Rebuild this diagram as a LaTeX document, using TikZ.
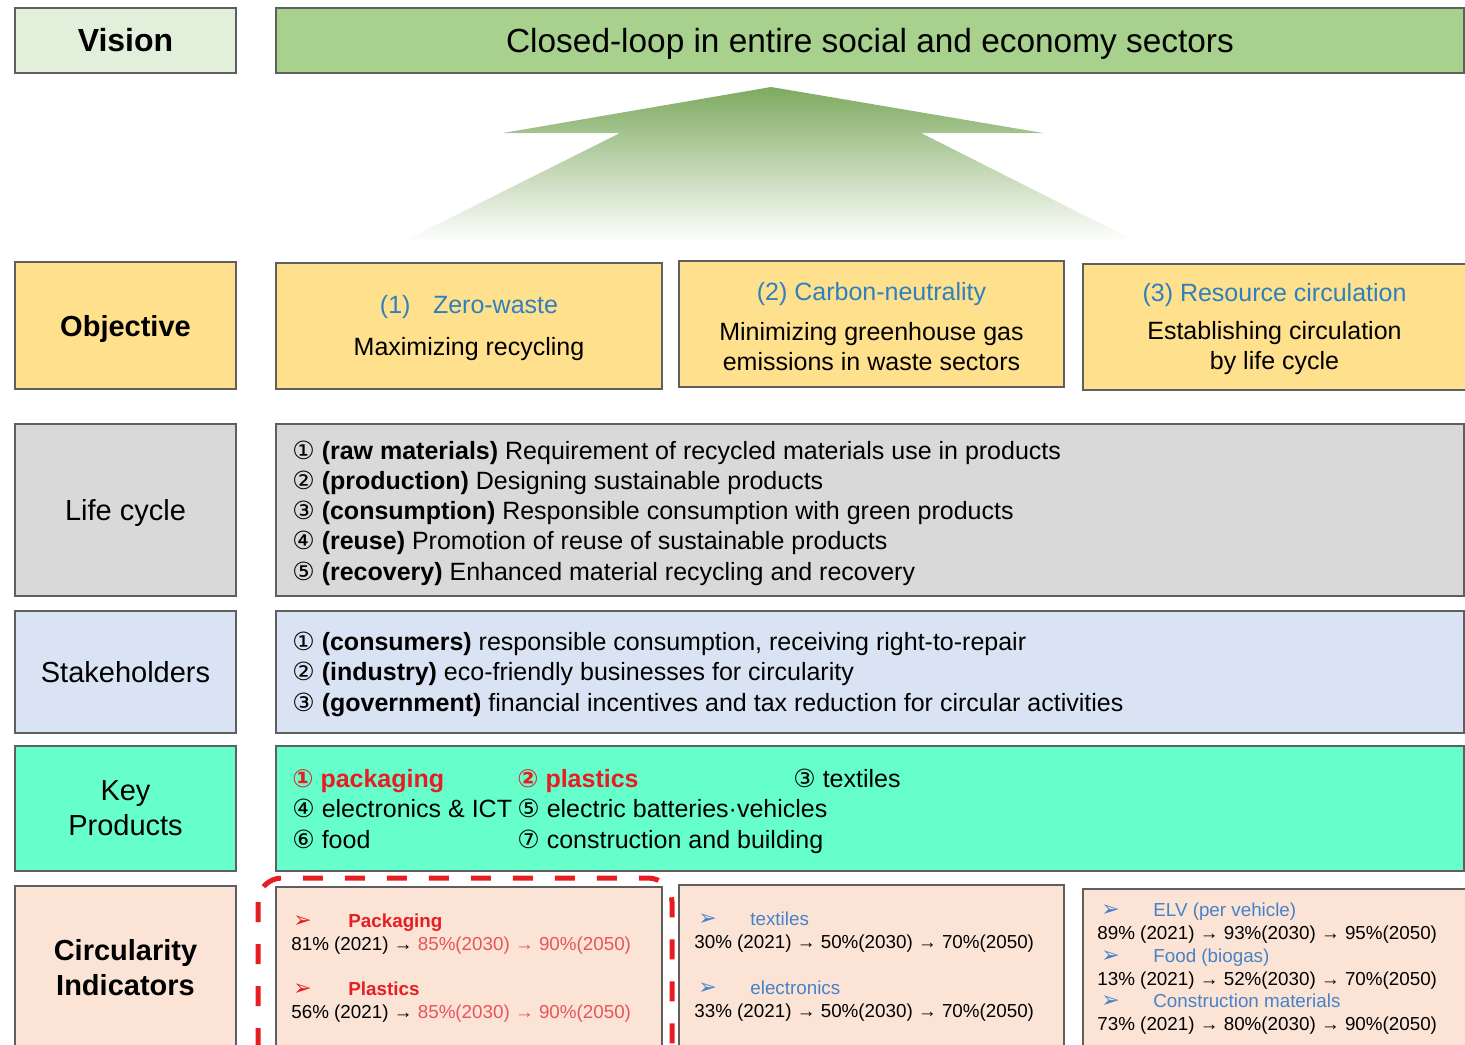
\documentclass[tikz,border=0pt]{standalone}
\usepackage{fontspec}
\setmainfont{Liberation Sans}
\newfontfamily\dejavu{DejaVu Sans}
\usetikzlibrary{arrows,shapes}
\definecolor{visionfill}{RGB}{226,239,218}
\definecolor{loopfill}{RGB}{169,209,142}
\definecolor{arrowgreen}{RGB}{126,170,96}
\definecolor{objfill}{RGB}{255,224,140}
\definecolor{lifefill}{RGB}{217,217,217}
\definecolor{stakefill}{RGB}{218,227,243}
\definecolor{keyfill}{RGB}{102,255,204}
\definecolor{indfill}{RGB}{251,228,214}
\definecolor{boxline}{RGB}{95,95,95}
\definecolor{titleblue}{RGB}{46,128,190}
\definecolor{indblue}{RGB}{70,130,200}
\definecolor{hotred}{RGB}{230,30,36}
\definecolor{softred}{RGB}{232,84,92}
\newcommand{\cn}[1]{{\dejavu #1}}
\newcommand{\visionfont}{\fontsize{16}{19}\selectfont}
\newcommand{\loopfont}{\fontsize{16.7}{20}\selectfont}
\newcommand{\labelfont}{\fontsize{14.5}{17.5}\selectfont}
\newcommand{\rowfont}{\fontsize{12.5}{15}\selectfont}
\newcommand{\indfont}{\fontsize{9.4}{11}\selectfont}
\tikzstyle{labelbox}=[draw=boxline,line width=0.8pt,inner sep=0pt,minimum width=110.5pt,align=center,font=\labelfont]
\tikzstyle{widebox}=[draw=boxline,line width=0.8pt,inner sep=0pt,minimum width=594pt]
\tikzstyle{objbox}=[draw=boxline,line width=0.8pt,inner sep=0pt,fill=objfill]
\tikzstyle{objtext}=[inner sep=0pt,align=center,font=\rowfont]
\tikzstyle{indbox}=[draw=boxline,line width=0.8pt,inner sep=0pt,fill=indfill]
\tikzstyle{textline}=[anchor=west,inner sep=0pt,text height=0.9em,text depth=0.1em,font=\rowfont]
\tikzstyle{indline}=[anchor=west,inner sep=0pt,text height=0.85em,text depth=0.15em,font=\indfont]

\begin{document}
\begin{tikzpicture}[x=0.5pt,y=-0.5pt]
    % First we fix the page
    \path[fill=white,use as bounding box] (0,0) rectangle (1465,1044);
    % Labels on the left
    \node[labelbox,fill=visionfill,minimum height=32.5pt,font=\visionfont\bfseries] (vision) at (125.5,40.5) {Vision};
    \node[labelbox,fill=objfill,minimum height=63.5pt,font=\labelfont\bfseries,text height=11.5pt,text depth=1pt] (objective) at (125.5,325.5) {Objective};
    \node[labelbox,fill=lifefill,minimum height=86pt,text height=11.5pt,text depth=1pt] (life) at (125.5,510) {Life cycle};
    \node[labelbox,fill=stakefill,minimum height=61pt] (stake) at (125.5,672) {Stakeholders};
    \node[labelbox,fill=keyfill,minimum height=62.5pt] (key) at (125.5,808.5) {Key\\Products};
    \node[labelbox,fill=indfill,minimum height=82pt,font=\labelfont\bfseries] (circ) at (125.5,968) {Circularity\\Indicators};
    % Vision and the arrow up to it
    \node[widebox,fill=loopfill,minimum height=32.5pt,font=\loopfont,text height=12.5pt,text depth=1pt] (loop) at (870,40.5) {Closed-loop in entire social and economy sectors};
    \shade[top color=arrowgreen,bottom color=white] (771,87) -- (1043,133) -- (921,133) -- (1137,242) -- (402,242) -- (620,133) -- (503,133) -- cycle;
    % Objectives
    \node[objbox,minimum width=193pt,minimum height=63pt] (zero) at (469,326) {};
    \node[objtext] (zerotxt) at (469,328.5) {\textcolor{titleblue}{(1)\hspace{0.9em}Zero-waste}\\[6pt]Maximizing recycling};
    \node[objbox,minimum width=192.5pt,minimum height=63pt] (carbon) at (871.5,324) {};
    \node[objtext] (carbontxt) at (871.5,326.5) {\textcolor{titleblue}{(2) Carbon-neutrality}\\[5pt]Minimizing greenhouse gas\\emissions in waste sectors};
    \node[objbox,minimum width=191.5pt,minimum height=63pt] (resource) at (1274.5,327) {};
    \node[objtext] (resourcetxt) at (1274.5,329.5) {\textcolor{titleblue}{(3) Resource circulation}\\[4pt]Establishing circulation\\by life cycle};
    % Life cycle
    \node[widebox,fill=lifefill,minimum height=86pt] (lifebox) at (870,510) {};
    \foreach \y/\name/\t in {451/lc1/{\cn{①} \textbf{(raw materials)} Requirement of recycled materials use in products},
        481/lc2/{\cn{②} \textbf{(production)} Designing sustainable products},
        511/lc3/{\cn{③} \textbf{(consumption)} Responsible consumption with green products},
        541/lc4/{\cn{④} \textbf{(reuse)} Promotion of reuse of sustainable products},
        572/lc5/{\cn{⑤} \textbf{(recovery)} Enhanced material recycling and recovery}}
        \node[textline] (\name) at (292,\y) {\t};
    % Stakeholders
    \node[widebox,fill=stakefill,minimum height=61pt] (stakebox) at (870,672) {};
    \foreach \y/\name/\t in {642/sh1/{\cn{①} \textbf{(consumers)} responsible consumption, receiving right-to-repair},
        672/sh2/{\cn{②} \textbf{(industry)} eco-friendly businesses for circularity},
        703/sh3/{\cn{③} \textbf{(government)} financial incentives and tax reduction for circular activities}}
        \node[textline] (\name) at (292,\y) {\t};
    % Key products
    \node[widebox,fill=keyfill,minimum height=62.5pt] (keybox) at (870,808.5) {};
    \node[textline,text=hotred,font=\rowfont\bfseries] (kp1) at (292,779) {\cn{①} packaging};
    \node[textline,text=hotred,font=\rowfont\bfseries] (kp2) at (517,779) {\cn{②} plastics};
    \node[textline] (kp3) at (793,779) {\cn{③} textiles};
    \node[textline] (kp4) at (292,809) {\cn{④} electronics \& ICT};
    \node[textline] (kp5) at (517,809) {\cn{⑤} electric batteries·vehicles};
    \node[textline] (kp6) at (292,840) {\cn{⑥} food};
    \node[textline] (kp7) at (517,840) {\cn{⑦} construction and building};
    % Circularity indicators
    \node[indbox,minimum width=193pt,minimum height=82pt] (ind1) at (469,969) {};
    \node[indbox,minimum width=192.5pt,minimum height=83pt] (ind2) at (871.5,968) {};
    \node[indbox,minimum width=191.5pt,minimum height=81pt] (ind3) at (1274.5,970) {};
    \node[indline,text=hotred,font=\fontsize{11}{12}\selectfont] (pka) at (293,920) {\cn{➢}};
    \node[indline,text=hotred,font=\indfont\bfseries] (pkt) at (348,920) {Packaging};
    \node[indline] (pkv) at (291,943) {81\% (2021) → \textcolor{softred}{85\%(2030) → 90\%(2050)}};
    \node[indline,text=hotred,font=\fontsize{11}{12}\selectfont] (pla) at (293,988) {\cn{➢}};
    \node[indline,text=hotred,font=\indfont\bfseries] (plt) at (348,988) {Plastics};
    \node[indline] (plv) at (291,1011) {56\% (2021) → \textcolor{softred}{85\%(2030) → 90\%(2050)}};
    \foreach \x/\y/\name/\t/\v in {694/918/tx/textiles/{30\% (2021) → 50\%(2030) → 70\%(2050)},
        694/987/el/electronics/{33\% (2021) → 50\%(2030) → 70\%(2050)},
        1097/909/elv/ELV (per vehicle)/{89\% (2021) → 93\%(2030) → 95\%(2050)},
        1097/955/fd/Food (biogas)/{13\% (2021) → 52\%(2030) → 70\%(2050)},
        1097/1000/cm/Construction materials/{73\% (2021) → 80\%(2030) → 90\%(2050)}}
    {
        \node[indline,text=indblue,font=\fontsize{11}{12}\selectfont] (\name a) at (\x+4,\y) {\cn{➢}};
        \node[indline,text=indblue] (\name t) at (\x+56,\y) {\t};
        \node[indline] (\name v) at (\x,\y+23) {\v};
    }
    % Red frame round the first indicators
    \draw[hotred,line width=2.5pt,dash pattern=on 10pt off 11pt,rounded corners=12pt] (258,878) rectangle (672,1070);
\end{tikzpicture}
\end{document}
